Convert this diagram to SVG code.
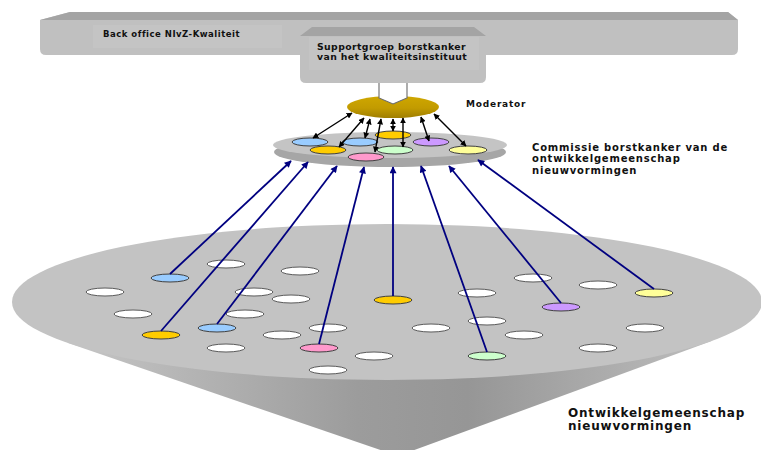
<svg xmlns="http://www.w3.org/2000/svg" width="761" height="450" viewBox="0 0 761 450">
<defs>
<linearGradient id="cone" x1="66" y1="0" x2="713" y2="0" gradientUnits="userSpaceOnUse">
<stop offset="0" stop-color="#c6c6c6"/>
<stop offset="0.45" stop-color="#9c9c9c"/>
<stop offset="0.62" stop-color="#969696"/>
<stop offset="1" stop-color="#bdbdbd"/>
</linearGradient>
<linearGradient id="gold" x1="0" y1="0" x2="0" y2="1">
<stop offset="0" stop-color="#cfa700"/>
<stop offset="0.55" stop-color="#c29b00"/>
<stop offset="1" stop-color="#9f7e00"/>
</linearGradient>
<marker id="ab" viewBox="0 0 10 10" refX="9" refY="5" markerWidth="6" markerHeight="6" orient="auto-start-reverse" markerUnits="userSpaceOnUse">
<path d="M0,0 L10,5 L0,10 Z" fill="#000"/>
</marker>
<marker id="an" viewBox="0 0 10 10" refX="9" refY="5" markerWidth="8" markerHeight="7" orient="auto" markerUnits="userSpaceOnUse">
<path d="M0,0 L10,5 L0,10 Z" fill="#000080"/>
</marker>
</defs>
<style>
text{font-family:"DejaVu Sans","Liberation Sans",sans-serif;font-weight:bold;fill:#111}
.w{fill:#fff;stroke:#5a5a5a;stroke-width:1}
.c{stroke:#404040;stroke-width:1}
.ba{stroke:#000;stroke-width:1.4;fill:none;marker-start:url(#ab);marker-end:url(#ab)}
.na{stroke:#000080;stroke-width:1.8;fill:none;marker-end:url(#an)}
</style>
<rect width="761" height="450" fill="#fff"/>

<g id="back-office">
<path d="M40,20 L70,12 L728,12 L738,20 L738,49 Q738,55 732,55 L46,55 Q40,55 40,49 Z" fill="#c0c0c0"/>
<path d="M40,20 L70,12 L728,12 L738,20 Z" fill="#a4a4a4"/>
<rect x="93" y="25" width="189" height="23" fill="#c4c4c4"/>
<text x="103" y="37" font-size="8.5" letter-spacing="0.5">Back office NIvZ-Kwaliteit</text>
</g>

<g id="supportgroep">
<path d="M300,36 L312,27 L474,27 L486,36 L486,77 Q486,83 480,83 L306,83 Q300,83 300,77 Z" fill="#c0c0c0"/>
<path d="M300,36 L312,27 L474,27 L486,36 Z" fill="#a4a4a4"/>
<rect x="309" y="37" width="170" height="33" fill="#c4c4c4"/>
<text x="317" y="50" font-size="9.3" letter-spacing="0.4">Supportgroep borstkanker</text>
<text x="317" y="60" font-size="9.3" letter-spacing="0.4">van het kwaliteitsinstituut</text>
</g>

<g id="moderator">
<ellipse cx="393" cy="107" rx="46" ry="11" fill="url(#gold)"/>
<path d="M379,83 L407,83 L407,98 L393,104 L379,98 Z" fill="#fff"/>
<path d="M379,83 L379,98 L393,104 L407,98 L407,83" fill="none" stroke="#6a6a6a" stroke-width="1.1"/>
<text x="466" y="107" font-size="9" letter-spacing="0.8">Moderator</text>
</g>

<g id="commissie">
<ellipse cx="390" cy="152" rx="116" ry="15" fill="#a6a6a6"/>
<ellipse cx="390" cy="145" rx="117" ry="13" fill="#c4c4c4"/>
<ellipse cx="310" cy="142" rx="18" ry="4" fill="#99ccff" class="c"/>
<ellipse cx="360" cy="142" rx="18" ry="4" fill="#99ccff" class="c"/>
<ellipse cx="393" cy="135" rx="18" ry="4" fill="#ffcc00" class="c"/>
<ellipse cx="328" cy="150" rx="18" ry="4" fill="#ffcc00" class="c"/>
<ellipse cx="395" cy="150" rx="18" ry="4" fill="#ccffcc" class="c"/>
<ellipse cx="431" cy="142" rx="18" ry="4" fill="#cc99ff" class="c"/>
<ellipse cx="366" cy="157" rx="18" ry="4" fill="#ff99cc" class="c"/>
<ellipse cx="468" cy="150" rx="19" ry="4" fill="#ffff99" class="c"/>
<text font-size="10" letter-spacing="0.8"><tspan x="532" y="151">Commissie borstkanker van de</tspan><tspan x="532" y="162">ontwikkelgemeenschap</tspan><tspan x="532" y="174">nieuwvormingen</tspan></text>
</g>

<g id="ontwikkelgemeenschap">
<path d="M66.5,342.5 L398,456 L713,340.5 Z" fill="url(#cone)"/>
<ellipse cx="387" cy="302" rx="375" ry="78" fill="#c3c3c3"/>
<ellipse cx="226" cy="264" rx="19" ry="4" class="w"/>
<ellipse cx="300" cy="271" rx="19" ry="4" class="w"/>
<ellipse cx="105" cy="292" rx="19" ry="4" class="w"/>
<ellipse cx="254" cy="292" rx="19" ry="4" class="w"/>
<ellipse cx="291" cy="299" rx="19" ry="4" class="w"/>
<ellipse cx="133" cy="314" rx="19" ry="4" class="w"/>
<ellipse cx="245" cy="314" rx="19" ry="4" class="w"/>
<ellipse cx="328" cy="328" rx="19" ry="4" class="w"/>
<ellipse cx="282" cy="335" rx="19" ry="4" class="w"/>
<ellipse cx="226" cy="348" rx="19" ry="4" class="w"/>
<ellipse cx="374" cy="356" rx="19" ry="4" class="w"/>
<ellipse cx="328" cy="370" rx="19" ry="4" class="w"/>
<ellipse cx="533" cy="278" rx="19" ry="4" class="w"/>
<ellipse cx="598" cy="285" rx="19" ry="4" class="w"/>
<ellipse cx="477" cy="293" rx="19" ry="4" class="w"/>
<ellipse cx="487" cy="321" rx="19" ry="4" class="w"/>
<ellipse cx="431" cy="328" rx="19" ry="4" class="w"/>
<ellipse cx="645" cy="328" rx="19" ry="4" class="w"/>
<ellipse cx="524" cy="335" rx="19" ry="4" class="w"/>
<ellipse cx="598" cy="348" rx="19" ry="4" class="w"/>
<ellipse cx="170" cy="278" rx="19" ry="4" fill="#99ccff" class="c"/>
<ellipse cx="161" cy="335" rx="19" ry="4" fill="#ffcc00" class="c"/>
<ellipse cx="217" cy="328" rx="19" ry="4" fill="#99ccff" class="c"/>
<ellipse cx="319" cy="348" rx="19" ry="4" fill="#ff99cc" class="c"/>
<ellipse cx="393" cy="300" rx="19" ry="4" fill="#ffcc00" class="c"/>
<ellipse cx="487" cy="356" rx="19" ry="4" fill="#ccffcc" class="c"/>
<ellipse cx="561" cy="307" rx="19" ry="4" fill="#cc99ff" class="c"/>
<ellipse cx="654" cy="293" rx="19" ry="4" fill="#ffff99" class="c"/>
<text font-size="12" letter-spacing="0.8"><tspan x="568" y="417">Ontwikkelgemeenschap</tspan><tspan x="568" y="430">nieuwvormingen</tspan></text>
</g>

<g id="connectors">
<line class="ba" x1="352" y1="113" x2="313" y2="138"/>
<line class="ba" x1="364" y1="118" x2="339" y2="147"/>
<line class="ba" x1="370" y1="119" x2="365" y2="138"/>
<line class="ba" x1="381" y1="119" x2="375" y2="152"/>
<line class="ba" x1="393" y1="119" x2="393" y2="131"/>
<line class="ba" x1="403" y1="118" x2="403" y2="147"/>
<line class="ba" x1="421" y1="117" x2="429" y2="141"/>
<line class="ba" x1="434" y1="114" x2="466" y2="146"/>
<line class="na" x1="170" y1="274" x2="291" y2="161"/>
<line class="na" x1="161" y1="331" x2="308" y2="162"/>
<line class="na" x1="217" y1="324" x2="337" y2="166"/>
<line class="na" x1="319" y1="344" x2="364" y2="167"/>
<line class="na" x1="393" y1="296" x2="393" y2="167"/>
<line class="na" x1="487" y1="352" x2="421" y2="166"/>
<line class="na" x1="561" y1="303" x2="449" y2="166"/>
<line class="na" x1="654" y1="289" x2="478" y2="160"/>
</g>
</svg>
